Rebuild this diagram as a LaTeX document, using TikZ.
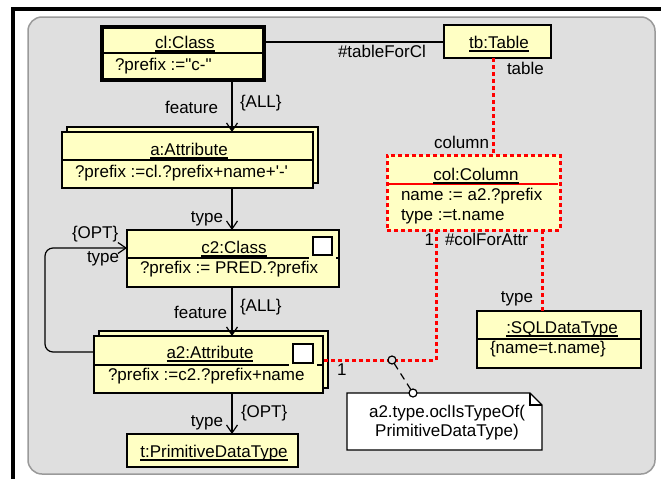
\documentclass[tikz,border=0pt]{standalone}
\usepackage{fontspec}
\setmainfont{Liberation Sans}[Ligatures=TeXOff]
\usetikzlibrary{arrows.meta}
\definecolor{bgray}{HTML}{DFDFDF}
\definecolor{fgray}{HTML}{9A9A9A}
\definecolor{umly}{HTML}{FFFFC4}
\definecolor{redl}{HTML}{FF0000}
\newcommand\myul[1]{\setbox0\hbox{#1}\rlap{\rule[-3.5pt]{\wd0}{1.2pt}}\box0}
\begin{document}
\begin{tikzpicture}[x=1pt,y=-1pt,
  every node/.style={font=\fontsize{17}{20}\selectfont, inner sep=0pt, outer sep=0pt},
  box/.style={draw=black, fill=umly, line width=1.3pt, rectangle, anchor=north west, inner sep=0pt},
  hdr/.style={line width=1.2pt},
  arr/.style={draw, line width=1.2pt, -{Straight Barb[length=8pt,width=11pt,line width=1.2pt]}},
  redc/.style={draw=redl, line width=3pt, dash pattern=on 4pt off 3pt},
  conn/.style={draw, line width=1.2pt},
  knob/.style={circle, draw, line width=1.2pt, minimum size=8pt, inner sep=0pt},
  mode/.style={draw, fill=white, line width=1.2pt}]
\useasboundingbox (0,0) rectangle (661,479);
\fill[white] (0,0) rectangle (661,479);
% frame
\draw[line width=4.5pt] (13,479) -- (13,9) -- (661,9);
\draw[fill=bgray, draw=fgray, line width=1.5pt, rounded corners=14pt] (28,17) rectangle (655,474);

% named helper coordinates
\coordinate (ax) at (232,0);
\coordinate (tby) at (0,42);
\coordinate (rx) at (493,0);
\coordinate (c1x) at (436,0);
\coordinate (c2x) at (542,0);
\coordinate (ry) at (0,360);
\coordinate (lb) at (45,352);
\coordinate (lt) at (45,248);

% cl:Class
\node[box, line width=4pt, minimum width=162, minimum height=53] (cl) at (102,27) {};
\draw[hdr] (102,53) -- (264,53);
\node[anchor=base] (tcl) at (185,48) {\myul{cl:Class}};
\node[anchor=base west] (pcl) at (115,70) {?prefix :="c-"};

% tb:Table
\node[box, minimum width=107, minimum height=33] (tb) at (444,25) {};
\node[anchor=base] (ttb) at (499,48) {\myul{tb:Table}};

% col:Column
\node[box, draw=redl, line width=3pt, dash pattern=on 4pt off 3pt, minimum width=173, minimum height=75] (col) at (387,155) {};
\draw[draw=redl, line width=1.2pt] (389,184) -- (558,184);
\node[anchor=base] (tcol) at (476,180) {\myul{col:Column}};
\node[anchor=base west] (pcol1) at (401,200) {name := a2.?prefix};
\node[anchor=base west] (pcol2) at (401,220) {type :=t.name};

% :SQLDataType
\node[box, minimum width=164, minimum height=57] (sql) at (477,311) {};
\draw[hdr] (477,339) -- (641,339);
\node[anchor=base] (tsql) at (562,333) {\myul{:SQLDataType}};
\node[anchor=base west] (psql) at (490,353) {\{name=t.name\}};

% a:Attribute (stacked)
\draw[fill=umly, line width=1.3pt] (67,127) rectangle (318,183);
\node[box, minimum width=251, minimum height=56] (a) at (62,132) {};
\draw[hdr] (62,160) -- (313,160);
\node[anchor=base] (ta) at (189,155) {\myul{a:Attribute}};
\node[anchor=base west] (pa) at (75,177) {?prefix :=cl.?prefix+name+'-'};

% c2:Class
\node[box, minimum width=212, minimum height=57] (c2) at (127,230) {};
\draw[hdr] (127,258) -- (309,258);
\draw[hdr] (336,258) -- (339,258);
\draw[mode] (313,237) rectangle (332,255);
\node[anchor=base] (tc2) at (234,253) {\myul{c2:Class}};
\node[anchor=base west] (pc2) at (140,273) {?prefix := PRED.?prefix};

% a2:Attribute (stacked)
\draw[fill=umly, line width=1.3pt] (99,331) rectangle (328,388);
\node[box, minimum width=229, minimum height=57] (a2) at (94,336) {};
\draw[hdr] (94,365) -- (289,365);
\draw[hdr] (317,365) -- (323,365);
\draw[mode] (293,344) rectangle (313,363);
\node[anchor=base] (ta2) at (210,358) {\myul{a2:Attribute}};
\node[anchor=base west] (pa2) at (108,380) {?prefix :=c2.?prefix+name};

% t:PrimitiveDataType
\node[box, minimum width=171, minimum height=33] (t) at (127,434) {};
\node[anchor=base] (tt) at (214,457) {\myul{t:PrimitiveDataType}};

% note
\node[minimum width=195, minimum height=57, anchor=north west] (note) at (347,393) {};
\draw[fill=white, line width=1.3pt] (347,393) -- (530,393) -- (542,405) -- (542,450) -- (347,450) -- cycle;
\draw[line width=1.2pt] (530,393) -- (530,405) -- (542,405);
\node[anchor=base] (n1) at (447,417) {a2.type.oclIsTypeOf(};
\node[anchor=base] (n2) at (447,436) {PrimitiveDataType)};

% connectors
\draw[conn] (cl.east |- tby) -- (tb.west |- tby);
\node[anchor=base west] (ltfc) at (338,57) {\#tableForCl};
\node[anchor=base west] (ltab) at (507,74) {table};

\draw[redc] (tb.south -| rx) -- (col.north -| rx);
\node[anchor=base east] (lcolumn) at (489,148) {column};

\draw[redc] (col.south -| c1x) |- (a2.east |- ry);
\node[anchor=base east] (lone1) at (434,245) {1};
\node[anchor=base west] (lcfa) at (445,245) {\#colForAttr};
\node[anchor=base west] (lone2) at (337,375) {1};

\draw[redc] (col.south -| c2x) -- (sql.north -| c2x);
\node[anchor=base east] (ltype3) at (533,302) {type};

\node[knob, fill=bgray] (k1) at (392,360) {};
\node[knob, fill=white] (k2) at (413,393) {};
\draw[conn, dash pattern=on 7pt off 5pt] (k1) -- (k2);

\draw[arr] (cl.south -| ax) -- (a.north -| ax);
\node[anchor=base east] (lfeat1) at (218,113) {feature};
\node[anchor=base west] (lall1) at (240,107) {\{ALL\}};

\draw[arr] (a.south -| ax) -- (c2.north -| ax);
\node[anchor=base east] (ltype1) at (223,222) {type};

\draw[arr, rounded corners=8pt] (a2.west |- lb) -- (lb) -- (lt) -- (c2.west |- lt);
\node[anchor=base west] (lopt1) at (72,238) {\{OPT\}};
\node[anchor=base west] (ltype2) at (87,262) {type};

\draw[arr] (c2.south -| ax) -- (a2.north -| ax);
\node[anchor=base east] (lfeat2) at (227,318) {feature};
\node[anchor=base west] (lall2) at (240,311) {\{ALL\}};

\draw[arr] (a2.south -| ax) -- (t.north -| ax);
\node[anchor=base east] (ltype4) at (223,426) {type};
\node[anchor=base west] (lopt2) at (241,417) {\{OPT\}};
\end{tikzpicture}
\end{document}
